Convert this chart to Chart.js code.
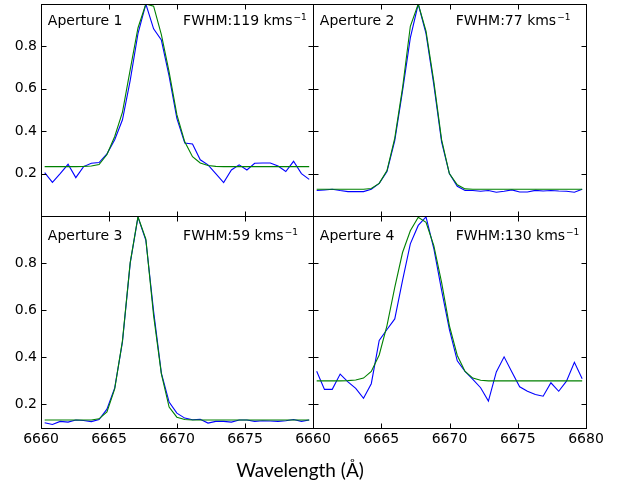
<!DOCTYPE html>
<html>
<head>
<meta charset="utf-8">
<script src="https://cdn.jsdelivr.net/npm/chart.js@4.4.0/dist/chart.umd.min.js"></script>
<style>
  body { margin: 0; background: #fff; }
  #wrap { position: relative; width: 626px; height: 487px; }
  #wrap canvas { position: absolute; left: 0; top: 0; }
  #xlabel {
    position: absolute; left: 0; top: 460px; width: 600px;
    text-align: center; font: 19px/19px Lato, sans-serif; color: #000;
  }
</style>
</head>
<body>
<div id="wrap">
  <canvas id="c1" width="626" height="487"></canvas>
  <canvas id="c2" width="626" height="487"></canvas>
  <canvas id="c3" width="626" height="487"></canvas>
  <canvas id="c4" width="626" height="487"></canvas>
  <div id="xlabel">Wavelength (Å)</div>
</div>
<script>
// wavelength grid shared by every aperture (Å)
const wavelength = [6660.27, 6660.84, 6661.41, 6661.99, 6662.56, 6663.13, 6663.70, 6664.27, 6664.85,
  6665.42, 6665.99, 6666.56, 6667.13, 6667.71, 6668.28, 6668.85, 6669.42, 6669.99, 6670.57, 6671.14,
  6671.71, 6672.28, 6672.85, 6673.43, 6674.00, 6674.57, 6675.14, 6675.71, 6676.29, 6676.86, 6677.43,
  6678.00, 6678.57, 6679.15, 6679.72];

// observed (blue) and fitted (green) normalised profiles
const obs1 = [0.205, 0.159, 0.20, 0.244, 0.181, 0.233, 0.249, 0.252, 0.293, 0.36, 0.454, 0.64, 0.86, 1.0,
  0.883, 0.83, 0.66, 0.46, 0.344, 0.34, 0.265, 0.241, 0.20, 0.158, 0.217, 0.241, 0.217, 0.249, 0.25, 0.25,
  0.236, 0.21, 0.258, 0.20, 0.173];
const fit1 = [0.233, 0.233, 0.233, 0.233, 0.233, 0.234, 0.236, 0.243, 0.29, 0.375, 0.49, 0.69, 0.887, 1.0,
  0.99, 0.856, 0.68, 0.478, 0.35, 0.28, 0.25, 0.238, 0.234, 0.233, 0.233, 0.233, 0.233, 0.233, 0.233, 0.233,
  0.233, 0.233, 0.233, 0.233, 0.233];

const obs2 = [0.12, 0.123, 0.126, 0.12, 0.115, 0.115, 0.115, 0.126, 0.154, 0.21, 0.355, 0.59, 0.84, 1.0,
  0.86, 0.62, 0.35, 0.2, 0.14, 0.12, 0.12, 0.117, 0.12, 0.112, 0.117, 0.123, 0.113, 0.113, 0.121, 0.118,
  0.12, 0.118, 0.117, 0.112, 0.126];
const fit2 = [0.126, 0.126, 0.126, 0.126, 0.126, 0.126, 0.126, 0.13, 0.154, 0.214, 0.367, 0.604, 0.895, 1.0,
  0.872, 0.635, 0.36, 0.2, 0.147, 0.128, 0.126, 0.126, 0.126, 0.126, 0.126, 0.126, 0.126, 0.126, 0.126,
  0.126, 0.126, 0.126, 0.126, 0.126, 0.126];

const obs3 = [0.122, 0.115, 0.128, 0.125, 0.134, 0.132, 0.127, 0.136, 0.18, 0.27, 0.465, 0.80, 0.995, 0.897,
  0.595, 0.333, 0.21, 0.163, 0.142, 0.135, 0.137, 0.121, 0.128, 0.128, 0.125, 0.134, 0.134, 0.128, 0.131,
  0.13, 0.128, 0.131, 0.136, 0.128, 0.134];
const fit3 = [0.134, 0.134, 0.134, 0.134, 0.134, 0.134, 0.134, 0.139, 0.168, 0.266, 0.471, 0.803, 0.997, 0.902,
  0.577, 0.33, 0.189, 0.146, 0.136, 0.134, 0.134, 0.134, 0.134, 0.134, 0.134, 0.134, 0.134, 0.134, 0.134,
  0.134, 0.134, 0.134, 0.134, 0.134, 0.134];

const obs4 = [0.341, 0.264, 0.264, 0.329, 0.296, 0.268, 0.226, 0.288, 0.472, 0.518, 0.563, 0.727, 0.882, 0.96,
  0.996, 0.862, 0.685, 0.519, 0.385, 0.34, 0.306, 0.271, 0.214, 0.338, 0.402, 0.338, 0.275, 0.256, 0.242,
  0.235, 0.292, 0.256, 0.299, 0.379, 0.309];
const fit4 = [0.3, 0.3, 0.3, 0.3, 0.301, 0.304, 0.312, 0.34, 0.41, 0.535, 0.697, 0.845, 0.937, 0.995,
  0.973, 0.874, 0.718, 0.535, 0.408, 0.34, 0.312, 0.303, 0.3, 0.3, 0.3, 0.3, 0.3, 0.3, 0.3, 0.3,
  0.3, 0.3, 0.3, 0.3, 0.3];

const apertureNames = ['Aperture 1', 'Aperture 2', 'Aperture 3', 'Aperture 4'];
const fwhmValues = ['119', '77', '59', '130'];
const xTicks = [6660, 6665, 6670, 6675, 6680];
const yTicks = [0.2, 0.4, 0.6, 0.8];

const FONT = "'DejaVu Sans', sans-serif";
const TICK_LEN = 5;

// box, inward ticks on all four sides and the two labels in each panel
const framePlugin = {
  id: 'frame',
  afterDatasetsDraw(chart, args, opts) {
    const { ctx, chartArea: a } = chart;
    const xs = chart.scales.x, ys = chart.scales.y;
    const L = Math.round(a.left) + 0.5, R = Math.round(a.right) + 0.5;
    const T = Math.round(a.top) + 0.5, B = Math.round(a.bottom) + 0.5;
    ctx.save();
    ctx.strokeStyle = '#000';
    ctx.lineWidth = 1;
    ctx.beginPath();
    xTicks.forEach(v => {
      const px = Math.round(xs.getPixelForValue(v)) + 0.5;
      ctx.moveTo(px, B); ctx.lineTo(px, B - TICK_LEN);
      ctx.moveTo(px, T); ctx.lineTo(px, T + TICK_LEN);
    });
    yTicks.forEach(v => {
      const py = Math.round(ys.getPixelForValue(v)) + 0.5;
      ctx.moveTo(L, py); ctx.lineTo(L + TICK_LEN, py);
      ctx.moveTo(R, py); ctx.lineTo(R - TICK_LEN, py);
    });
    ctx.stroke();
    ctx.strokeRect(L, T, R - L, B - T);

    ctx.fillStyle = '#000';
    ctx.textBaseline = 'alphabetic';
    ctx.font = '14px ' + FONT;
    const ty = ys.getPixelForValue(0.9);
    ctx.fillText(opts.name, xs.getPixelForValue(6660.5), ty);
    const fx = xs.getPixelForValue(6670.45);
    const main = 'FWHM:' + opts.fwhm + ' kms';
    ctx.fillText(main, fx, ty);
    const w = ctx.measureText(main).width;
    ctx.font = '9px ' + FONT;
    ctx.fillText('\u22121', fx + w + 1, ty - 5);
    ctx.restore();
  }
};

function makePanel(id, idx, obs, fit, cfg) {
  new Chart(document.getElementById(id), {
    type: 'line',
    data: {
      datasets: [
        { data: wavelength.map((w, i) => ({ x: w, y: fit[i] })), borderColor: '#008000' },
        { data: wavelength.map((w, i) => ({ x: w, y: obs[i] })), borderColor: '#0000ff' }
      ]
    },
    options: {
      responsive: false,
      animation: false,
      events: [],
      elements: {
        line: { borderWidth: 1.1, tension: 0, fill: false },
        point: { radius: 0 }
      },
      layout: { padding: cfg.padding },
      plugins: {
        legend: { display: false },
        tooltip: { enabled: false },
        frame: { name: apertureNames[idx], fwhm: fwhmValues[idx] }
      },
      scales: {
        x: {
          type: 'linear', min: 6660, max: 6680,
          display: cfg.showX,
          afterBuildTicks: s => { s.ticks = xTicks.map(v => ({ value: v })); },
          afterFit: s => { s.height = cfg.showX ? 59 : 0; s.paddingLeft = 0; s.paddingRight = 0; },
          ticks: {
            font: { family: FONT, size: 14 }, color: '#000', padding: 3,
            maxRotation: 0, autoSkip: false,
            callback: v => (cfg.lastX || v < 6680) ? String(v) : ''
          },
          grid: { display: false, drawTicks: false },
          border: { display: false }
        },
        y: {
          type: 'linear', min: cfg.yMin, max: 1.0,
          display: cfg.showY,
          afterBuildTicks: s => { s.ticks = yTicks.map(v => ({ value: v })); },
          afterFit: s => { s.width = cfg.showY ? 41 : 0; s.paddingTop = 0; s.paddingBottom = 0; },
          ticks: {
            font: { family: FONT, size: 14 }, color: '#000', padding: 4,
            callback: v => v.toFixed(1)
          },
          grid: { display: false, drawTicks: false },
          border: { display: false }
        }
      }
    },
    plugins: [framePlugin]
  });
}

makePanel('c1', 0, obs1, fit1, { padding: { left: 0, top: 4, right: 313, bottom: 271 }, showX: false, showY: true, yMin: 0 });
makePanel('c2', 1, obs2, fit2, { padding: { left: 313, top: 4, right: 40, bottom: 271 }, showX: false, showY: false, yMin: 0 });
makePanel('c3', 2, obs3, fit3, { padding: { left: 0, top: 216, right: 313, bottom: 0 }, showX: true, showY: true, yMin: 0.1, lastX: false });
makePanel('c4', 3, obs4, fit4, { padding: { left: 313, top: 216, right: 40, bottom: 0 }, showX: true, showY: false, yMin: 0.1, lastX: true });
</script>
</body>
</html>
